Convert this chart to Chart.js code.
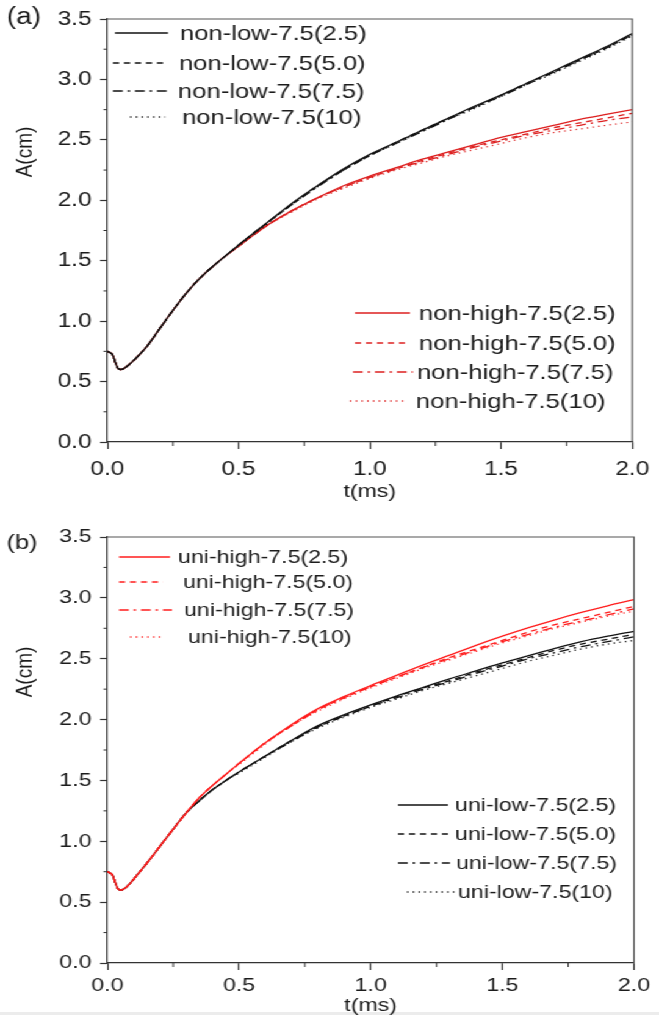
<!DOCTYPE html>
<html>
<head>
<meta charset="utf-8">
<script src="https://cdn.jsdelivr.net/npm/chart.js@4.4.1/dist/chart.umd.min.js"></script>
<style>
  html, body { margin: 0; padding: 0; background: #fff; width: 659px; height: 1021px; overflow: hidden; }
  /* the source figure is stretched horizontally, so draw narrow and stretch */
  #wrap { position: absolute; left: 0; top: 0; width: 540px; height: 1021px; transform: scaleX(1.2204); transform-origin: 0 0; }
  #chartA { position: absolute; left: 0; top: 0; }
  #chartB { position: absolute; left: 0; top: 510px; }
  #rule { position: absolute; left: 0; top: 1012px; width: 659px; height: 3px; background: #ececec; }
</style>
</head>
<body>
<div id="rule"></div>
<div id="wrap">
  <canvas id="chartA" width="540" height="510"></canvas>
  <canvas id="chartB" width="540" height="511"></canvas>
</div>
<script>
// time axis (ms), shared by every curve
const tMs = [0, 0.01, 0.02, 0.03, 0.04, 0.05, 0.06, 0.08, 0.1, 0.15, 0.2, 0.25, 0.3, 0.35, 0.4, 0.45,
             0.5, 0.6, 0.7, 0.8, 0.9, 1.0, 1.1, 1.2, 1.3, 1.4, 1.5, 1.6, 1.7, 1.8, 1.9, 2.0];

// panel (a) - A(cm)
const nonLow25  = [0.75, 0.74, 0.72, 0.66, 0.61, 0.60, 0.605, 0.635, 0.675, 0.79, 0.94, 1.09, 1.23, 1.35, 1.45, 1.54,
                   1.63, 1.80, 1.97, 2.12, 2.26, 2.38, 2.48, 2.58, 2.68, 2.78, 2.87, 2.97, 3.07, 3.17, 3.27, 3.38];
const nonLow50  = [0.75, 0.74, 0.72, 0.66, 0.61, 0.60, 0.605, 0.635, 0.675, 0.79, 0.94, 1.09, 1.23, 1.35, 1.45, 1.54,
                   1.63, 1.80, 1.96, 2.12, 2.25, 2.37, 2.48, 2.58, 2.68, 2.77, 2.87, 2.97, 3.06, 3.16, 3.26, 3.37];
const nonLow75  = [0.75, 0.74, 0.72, 0.66, 0.61, 0.60, 0.605, 0.635, 0.675, 0.79, 0.94, 1.09, 1.23, 1.35, 1.45, 1.54,
                   1.63, 1.80, 1.96, 2.11, 2.25, 2.37, 2.47, 2.57, 2.67, 2.77, 2.86, 2.96, 3.06, 3.16, 3.26, 3.37];
const nonLow10  = [0.75, 0.74, 0.72, 0.66, 0.61, 0.60, 0.605, 0.635, 0.675, 0.79, 0.94, 1.09, 1.23, 1.35, 1.45, 1.54,
                   1.62, 1.79, 1.96, 2.11, 2.25, 2.37, 2.47, 2.57, 2.67, 2.76, 2.86, 2.96, 3.05, 3.15, 3.25, 3.36];
const nonHigh25 = [0.75, 0.74, 0.72, 0.66, 0.61, 0.60, 0.605, 0.635, 0.675, 0.79, 0.94, 1.09, 1.23, 1.35, 1.45, 1.54,
                   1.62, 1.78, 1.91, 2.02, 2.12, 2.20, 2.27, 2.34, 2.40, 2.46, 2.52, 2.57, 2.62, 2.67, 2.71, 2.75];
const nonHigh50 = [0.75, 0.74, 0.72, 0.66, 0.61, 0.60, 0.605, 0.635, 0.675, 0.79, 0.94, 1.09, 1.23, 1.35, 1.45, 1.54,
                   1.62, 1.78, 1.91, 2.02, 2.11, 2.19, 2.26, 2.33, 2.39, 2.45, 2.50, 2.55, 2.60, 2.64, 2.68, 2.72];
const nonHigh75 = [0.75, 0.74, 0.72, 0.66, 0.61, 0.60, 0.605, 0.635, 0.675, 0.79, 0.94, 1.09, 1.23, 1.35, 1.45, 1.54,
                   1.62, 1.78, 1.91, 2.02, 2.11, 2.19, 2.26, 2.32, 2.38, 2.44, 2.49, 2.54, 2.58, 2.62, 2.66, 2.69];
const nonHigh10 = [0.75, 0.74, 0.72, 0.66, 0.61, 0.60, 0.605, 0.635, 0.675, 0.79, 0.94, 1.09, 1.23, 1.35, 1.45, 1.54,
                   1.62, 1.78, 1.90, 2.01, 2.10, 2.18, 2.25, 2.31, 2.37, 2.42, 2.47, 2.52, 2.56, 2.59, 2.62, 2.65];

// panel (b) - A(cm)
const uniHigh25 = [0.75, 0.74, 0.72, 0.66, 0.61, 0.60, 0.605, 0.64, 0.69, 0.82, 0.96, 1.10, 1.235, 1.36, 1.46, 1.55,
                   1.64, 1.81, 1.96, 2.09, 2.19, 2.28, 2.365, 2.45, 2.53, 2.61, 2.685, 2.755, 2.82, 2.88, 2.935, 2.985];
const uniHigh50 = [0.75, 0.74, 0.72, 0.66, 0.61, 0.60, 0.605, 0.64, 0.69, 0.82, 0.96, 1.10, 1.235, 1.36, 1.46, 1.55,
                   1.64, 1.81, 1.95, 2.08, 2.18, 2.27, 2.35, 2.43, 2.51, 2.58, 2.65, 2.72, 2.78, 2.83, 2.88, 2.93];
const uniHigh75 = [0.75, 0.74, 0.72, 0.66, 0.61, 0.60, 0.605, 0.64, 0.69, 0.82, 0.96, 1.10, 1.235, 1.36, 1.46, 1.55,
                   1.64, 1.81, 1.95, 2.08, 2.18, 2.27, 2.35, 2.43, 2.50, 2.57, 2.64, 2.70, 2.76, 2.81, 2.86, 2.91];
const uniHigh10 = [0.75, 0.74, 0.72, 0.66, 0.61, 0.60, 0.605, 0.64, 0.69, 0.82, 0.96, 1.10, 1.235, 1.36, 1.46, 1.55,
                   1.63, 1.80, 1.95, 2.07, 2.17, 2.26, 2.34, 2.42, 2.49, 2.56, 2.63, 2.69, 2.75, 2.80, 2.85, 2.89];
const uniLow25  = [0.75, 0.74, 0.72, 0.66, 0.61, 0.60, 0.605, 0.64, 0.69, 0.82, 0.96, 1.10, 1.235, 1.335, 1.425, 1.50,
                   1.57, 1.70, 1.83, 1.95, 2.04, 2.12, 2.195, 2.265, 2.335, 2.40, 2.465, 2.525, 2.585, 2.64, 2.685, 2.725];
const uniLow50  = [0.75, 0.74, 0.72, 0.66, 0.61, 0.60, 0.605, 0.64, 0.69, 0.82, 0.96, 1.10, 1.235, 1.335, 1.425, 1.50,
                   1.57, 1.70, 1.83, 1.94, 2.03, 2.11, 2.19, 2.26, 2.32, 2.39, 2.45, 2.51, 2.57, 2.62, 2.66, 2.70];
const uniLow75  = [0.75, 0.74, 0.72, 0.66, 0.61, 0.60, 0.605, 0.64, 0.69, 0.82, 0.96, 1.10, 1.235, 1.335, 1.425, 1.50,
                   1.57, 1.70, 1.82, 1.94, 2.03, 2.11, 2.18, 2.25, 2.31, 2.38, 2.44, 2.50, 2.55, 2.60, 2.64, 2.68];
const uniLow10  = [0.75, 0.74, 0.72, 0.66, 0.61, 0.60, 0.605, 0.64, 0.69, 0.82, 0.96, 1.10, 1.235, 1.335, 1.425, 1.50,
                   1.56, 1.69, 1.82, 1.93, 2.02, 2.10, 2.17, 2.24, 2.30, 2.36, 2.42, 2.48, 2.53, 2.58, 2.62, 2.65];

const SX = 1.2204;   // horizontal stretch of the whole figure
const FONT = "'Liberation Sans', Arial, sans-serif";
const TXT = '#1c1c1c';
const AXIS = '#333';

const SOLID = [], DASH = [5, 4], DASHDOT = [8, 4, 2, 4], DOT = [1.2, 3.5];

// frame on top/right of plot
const framePlugin = {
  id: 'frame',
  afterDraw(chart) {
    const {ctx, chartArea: a} = chart;
    ctx.save();
    ctx.strokeStyle = '#555';
    ctx.lineWidth = 1.2;
    ctx.beginPath();
    ctx.moveTo(a.left, a.top);
    ctx.lineTo(a.right, a.top);
    ctx.lineTo(a.right, a.bottom);
    ctx.stroke();
    ctx.restore();
  }
};

// short minor ticks half way between major ticks
const minorTicks = {
  id: 'minorTicks',
  afterDraw(chart) {
    const {ctx, chartArea: a, scales} = chart;
    ctx.save();
    ctx.strokeStyle = AXIS;
    ctx.lineWidth = 1;
    const xt = scales.x.ticks, yt = scales.y.ticks;
    ctx.beginPath();
    for (let i = 0; i < xt.length - 1; i++) {
      const px = scales.x.getPixelForValue((xt[i].value + xt[i + 1].value) / 2);
      ctx.moveTo(px, a.bottom);
      ctx.lineTo(px, a.bottom + 4);
    }
    for (let i = 0; i < yt.length - 1; i++) {
      const py = scales.y.getPixelForValue((yt[i].value + yt[i + 1].value) / 2);
      ctx.moveTo(a.left, py);
      ctx.lineTo(a.left - 4 / SX, py);
    }
    ctx.stroke();
    ctx.restore();
  }
};

// legend entries placed by hand, positions in figure pixels
function legendPlugin(rows, size) {
  return {
    id: 'handLegend',
    afterDraw(chart) {
      const ctx = chart.ctx;
      ctx.save();
      rows.forEach(r => {
        const ds = chart.data.datasets[r.ds];
        ctx.strokeStyle = ds.borderColor;
        ctx.lineWidth = 1.3;
        ctx.setLineDash(ds.borderDash);
        ctx.beginPath();
        ctx.moveTo(r.x1 / SX, r.y);
        ctx.lineTo(r.x2 / SX, r.y);
        ctx.stroke();
        ctx.setLineDash([]);
        ctx.fillStyle = TXT;
        ctx.font = size + 'px ' + FONT;
        ctx.textAlign = 'left';
        ctx.textBaseline = 'middle';
        ctx.fillText(ds.label, r.tx / SX, r.y + 1);
      });
      ctx.restore();
    }
  };
}

// panel letter and rotated y title
function textPlugin(items) {
  return {
    id: 'panelText',
    afterDraw(chart) {
      const ctx = chart.ctx;
      ctx.save();
      items.forEach(it => {
        ctx.save();
        ctx.translate(it.x / SX, it.y);
        ctx.rotate(it.rot || 0);
        ctx.fillStyle = TXT;
        ctx.font = it.size + 'px ' + FONT;
        ctx.textAlign = 'center';
        ctx.textBaseline = 'middle';
        ctx.fillText(it.text, 0, 0);
        ctx.restore();
      });
      ctx.restore();
    }
  };
}

function buildChart(canvas, cfg) {
  return new Chart(canvas, {
    type: 'line',
    data: {
      datasets: cfg.series.map(s => ({
        label: s.label,
        data: tMs.map((t, k) => ({x: t, y: s.values[k]})),
        borderColor: s.color,
        borderWidth: 1.3,
        borderDash: s.dash,
        pointRadius: 0,
        fill: false,
        cubicInterpolationMode: 'monotone'
      }))
    },
    options: {
      responsive: false,
      animation: false,
      devicePixelRatio: 1,
      layout: {padding: {top: cfg.padTop, right: 20.5, left: 0, bottom: 0}},
      plugins: {legend: {display: false}, tooltip: {enabled: false}},
      scales: {
        x: {
          type: 'linear', min: 0, max: 2,
          ticks: {stepSize: 0.5, callback: v => v.toFixed(1), color: TXT, padding: cfg.xTickPad,
                  maxRotation: 0, autoSkip: false, font: {family: FONT, size: cfg.tickSize}},
          grid: {drawOnChartArea: false, tickLength: 7, tickColor: AXIS, tickWidth: 1.2},
          border: {color: AXIS, width: 1.2},
          title: {display: true, text: 't(ms)', color: TXT, font: {family: FONT, size: cfg.titleSize},
                  padding: {top: 0, bottom: cfg.xTitlePad}},
          afterFit: s => { s.height = cfg.xAxisH; }
        },
        y: {
          min: 0, max: 3.5,
          ticks: {stepSize: 0.5, callback: v => v.toFixed(1), color: TXT, padding: 7,
                  font: {family: FONT, size: cfg.tickSize}},
          grid: {drawOnChartArea: false, tickLength: 6, tickColor: AXIS, tickWidth: 1.2},
          border: {color: AXIS, width: 1.2},
          afterFit: s => { s.width = 88; }
        }
      }
    },
    plugins: [framePlugin, minorTicks, legendPlugin(cfg.legend, cfg.legendSize), textPlugin(cfg.texts)]
  });
}

const BLACK = '#111111';
const RED_A = '#dd1f1f';
const RED_B = '#ff1c1c';

buildChart(document.getElementById('chartA'), {
  padTop: 19, xAxisH: 68, xTickPad: 8, xTitlePad: 7, tickSize: 20, titleSize: 19, legendSize: 21,
  series: [
    {label: 'non-low-7.5(2.5)',  values: nonLow25,  color: BLACK, dash: SOLID},
    {label: 'non-low-7.5(5.0)',  values: nonLow50,  color: BLACK, dash: DASH},
    {label: 'non-low-7.5(7.5)',  values: nonLow75,  color: BLACK, dash: DASHDOT},
    {label: 'non-low-7.5(10)',   values: nonLow10,  color: BLACK, dash: DOT},
    {label: 'non-high-7.5(2.5)', values: nonHigh25, color: RED_A, dash: SOLID},
    {label: 'non-high-7.5(5.0)', values: nonHigh50, color: RED_A, dash: DASH},
    {label: 'non-high-7.5(7.5)', values: nonHigh75, color: RED_A, dash: DASHDOT},
    {label: 'non-high-7.5(10)',  values: nonHigh10, color: RED_A, dash: DOT}
  ],
  legend: [
    {ds: 0, y: 33,  x1: 115, x2: 168, tx: 180},
    {ds: 1, y: 63,  x1: 113, x2: 165, tx: 179},
    {ds: 2, y: 91,  x1: 113, x2: 170, tx: 178},
    {ds: 3, y: 117, x1: 130, x2: 165, tx: 182},
    {ds: 4, y: 313, x1: 355, x2: 410, tx: 419},
    {ds: 5, y: 343, x1: 355, x2: 405, tx: 419},
    {ds: 6, y: 372, x1: 353, x2: 413, tx: 417},
    {ds: 7, y: 401, x1: 350, x2: 405, tx: 416}
  ],
  texts: [
    {text: '(a)', x: 24, y: 18, size: 23},
    {text: 'A(cm)', x: 25, y: 152, size: 19, rot: -Math.PI / 2}
  ]
});

buildChart(document.getElementById('chartB'), {
  padTop: 27, xAxisH: 58, xTickPad: 4, xTitlePad: 4, tickSize: 19, titleSize: 19, legendSize: 19,
  series: [
    {label: 'uni-high-7.5(2.5)', values: uniHigh25, color: RED_B, dash: SOLID},
    {label: 'uni-high-7.5(5.0)', values: uniHigh50, color: RED_B, dash: DASH},
    {label: 'uni-high-7.5(7.5)', values: uniHigh75, color: RED_B, dash: DASHDOT},
    {label: 'uni-high-7.5(10)',  values: uniHigh10, color: RED_B, dash: DOT},
    {label: 'uni-low-7.5(2.5)',  values: uniLow25,  color: BLACK, dash: SOLID},
    {label: 'uni-low-7.5(5.0)',  values: uniLow50,  color: BLACK, dash: DASH},
    {label: 'uni-low-7.5(7.5)',  values: uniLow75,  color: BLACK, dash: DASHDOT},
    {label: 'uni-low-7.5(10)',   values: uniLow10,  color: BLACK, dash: DOT}
  ],
  legend: [
    {ds: 0, y: 47,  x1: 119, x2: 170, tx: 178},
    {ds: 1, y: 72,  x1: 119, x2: 163, tx: 183},
    {ds: 2, y: 100, x1: 119, x2: 172, tx: 184},
    {ds: 3, y: 127, x1: 130, x2: 163, tx: 188},
    {ds: 4, y: 295, x1: 398, x2: 448, tx: 455},
    {ds: 5, y: 324, x1: 398, x2: 448, tx: 455},
    {ds: 6, y: 353, x1: 398, x2: 450, tx: 456},
    {ds: 7, y: 382, x1: 407, x2: 455, tx: 458}
  ],
  texts: [
    {text: '(b)', x: 22, y: 33, size: 21},
    {text: 'A(cm)', x: 25, y: 162, size: 19, rot: -Math.PI / 2}
  ]
});
</script>
</body>
</html>
